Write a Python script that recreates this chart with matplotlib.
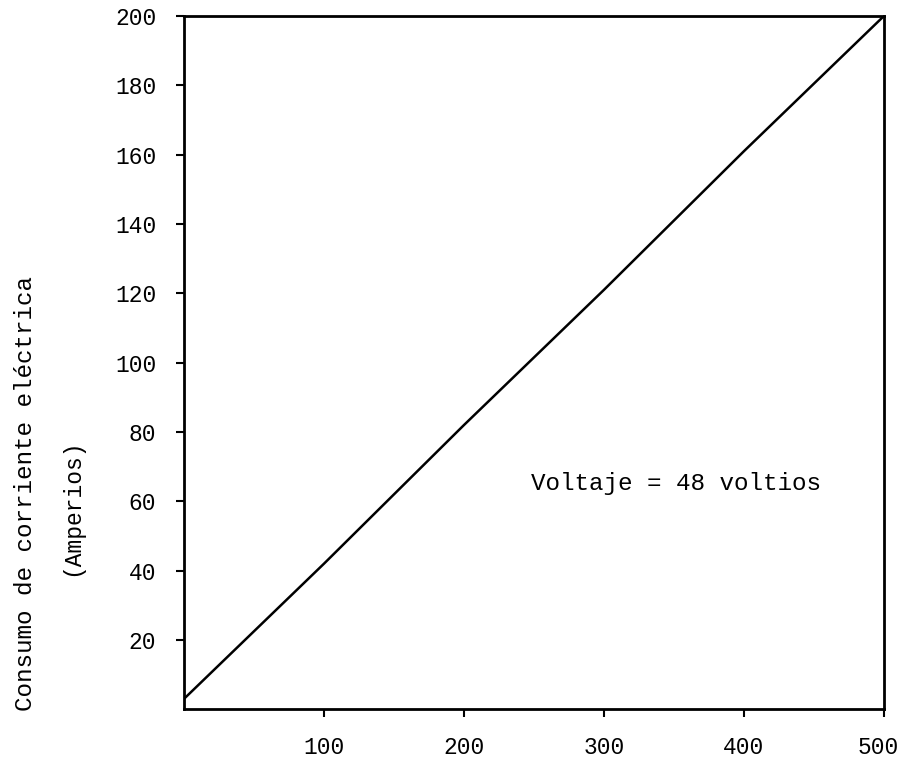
import matplotlib
matplotlib.use("Agg")
import matplotlib.pyplot as plt
import matplotlib.transforms as mtransforms

# values
potencia = [0, 100, 200, 300, 400, 500]
corriente = [3, 42, 82, 121, 161, 200]
xticks = [100, 200, 300, 400, 500]
yticks = [20, 40, 60, 80, 100, 120, 140, 160, 180, 200]

plt.rcParams['font.family'] = ['Liberation Mono', 'DejaVu Sans Mono']

fig = plt.figure(figsize=(9.02, 7.61), dpi=100)
ax = fig.add_axes([0.204, 0.068, 0.776, 0.911])

ax.plot(potencia, corriente, color='black', linewidth=1.8)
ax.set_xlim(0, 500)
ax.set_ylim(0, 200)
ax.set_xticks(xticks)
ax.set_yticks(yticks)
ax.tick_params(direction='out', length=6, width=1.5, labelsize=16.5)
ax.tick_params(axis='y', pad=14)
ax.tick_params(axis='x', pad=13)
for s in ax.spines.values():
    s.set_linewidth(2)

# keep the last x label inside the picture
lbl = ax.get_xticklabels()[-1]
lbl.set_transform(lbl.get_transform() +
                  mtransforms.ScaledTranslation(-4 / 72, 0, fig.dpi_scale_trans))

ax.text(248, 65, 'Voltaje = 48 voltios', fontsize=17.5, va='center')

fig.text(0.028, 0.352, 'Consumo de corriente eléctrica', rotation=90,
         fontsize=17.5, ha='center', va='center')
fig.text(0.079, 0.334, '(Amperios)', rotation=90,
         fontsize=16.5, ha='center', va='center')

fig.savefig('out.png', dpi=100)
